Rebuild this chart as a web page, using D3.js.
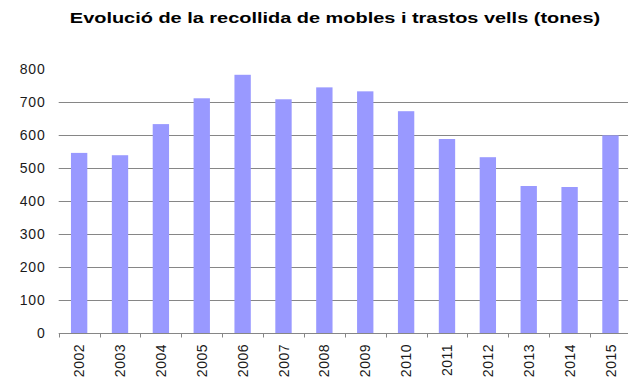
<!DOCTYPE html>
<html>
<head>
<meta charset="utf-8">
<script src="https://cdn.jsdelivr.net/npm/d3@7"></script>
<style>
  html, body { margin: 0; padding: 0; background: #fff; }
  svg { display: block; font-family: "Liberation Sans", Arial, sans-serif; }
</style>
</head>
<body>
<svg id="chart" width="628" height="382"></svg>
<script>
// Tones of furniture and bulky junk collected per year
const years = ["2002","2003","2004","2005","2006","2007","2008","2009","2010","2011","2012","2013","2014","2015"];
const tones = [545, 538, 632, 710, 781, 707, 743, 731, 671, 587, 532, 445, 442, 598];
const yTicks = [0, 100, 200, 300, 400, 500, 600, 700, 800];
const titleText = "Evolució de la recollida de mobles i trastos vells (tones)";

const svg = d3.select("#chart");

const plot = { left: 58.7, right: 630.9, top: 68.5, bottom: 333.3 };

const x = d3.scaleBand()
  .domain(years)
  .range([plot.left, plot.right])
  .paddingInner(0.6)
  .paddingOuter(0.3);

const y = d3.scaleLinear()
  .domain([0, 800])
  .range([plot.bottom, plot.top]);

// Title, drawn in a wide bold face
svg.append("text")
  .attr("transform", "translate(335,23) scale(1.33,1)")
  .attr("text-anchor", "middle")
  .attr("font-size", 15)
  .attr("font-weight", "bold")
  .attr("fill", "#000")
  .text(titleText);

// Horizontal gridlines (no line at the top value)
svg.append("g")
  .selectAll("line")
  .data(yTicks.filter(t => t > 0 && t < 800))
  .join("line")
  .attr("x1", plot.left)
  .attr("x2", plot.right)
  .attr("y1", d => Math.round(y(d)) + 0.5)
  .attr("y2", d => Math.round(y(d)) + 0.5)
  .attr("stroke", "#868686")
  .attr("stroke-width", 1);

// Y-axis labels
svg.append("g")
  .selectAll("text")
  .data(yTicks)
  .join("text")
  .attr("x", 45.5)
  .attr("y", d => y(d))
  .attr("dy", "0.36em")
  .attr("text-anchor", "end")
  .attr("font-size", 14)
  .attr("letter-spacing", 0.8)
  .attr("fill", "#1a1a1a")
  .text(d => d);

// Bars
svg.append("g")
  .selectAll("rect")
  .data(years.map((yr, i) => ({ yr, v: tones[i] })))
  .join("rect")
  .attr("x", d => x(d.yr))
  .attr("y", d => y(d.v))
  .attr("width", x.bandwidth())
  .attr("height", d => y(0) - y(d.v))
  .attr("fill", "#9999ff");

// X axis with tick marks at category boundaries
const xAxis = d3.axisBottom(x).tickSize(0).tickFormat("");
const axisG = svg.append("g")
  .attr("transform", `translate(0,${Math.round(y(0)) + 0.5})`)
  .call(xAxis);
axisG.select(".domain").remove();
axisG.append("line")
  .attr("x1", plot.left)
  .attr("x2", plot.right)
  .attr("stroke", "#868686");
const step = x.step();
const boundaries = d3.range(years.length + 1).map(i => x(years[0]) - step * x.paddingOuter() + i * step);
axisG.selectAll(".bound")
  .data(boundaries)
  .join("line")
  .attr("class", "bound")
  .attr("x1", d => Math.round(d) + 0.5)
  .attr("x2", d => Math.round(d) + 0.5)
  .attr("y1", 0)
  .attr("y2", 4)
  .attr("stroke", "#868686");

// Rotated year labels
svg.append("g")
  .selectAll("text")
  .data(years)
  .join("text")
  .attr("transform", d => `translate(${x(d) + x.bandwidth() / 2},344) rotate(-90)`)
  .attr("dy", "0.36em")
  .attr("text-anchor", "end")
  .attr("font-size", 14)
  .attr("letter-spacing", 0.5)
  .attr("fill", "#1a1a1a")
  .text(d => d);
</script>
</body>
</html>
